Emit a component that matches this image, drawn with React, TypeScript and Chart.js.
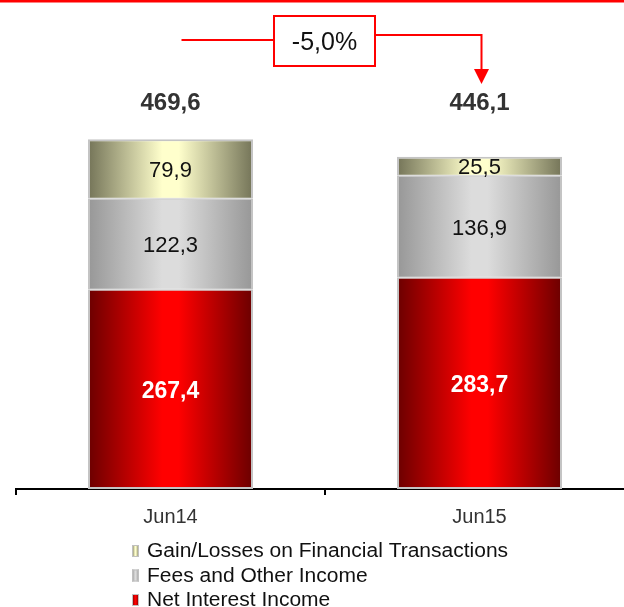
import { useEffect, useRef } from "react";
import { Chart, registerables } from "chart.js";
Chart.register(...registerables);

const categories = ["Jun14", "Jun15"];
const netInterestIncome = [267.4, 283.7];
const feesAndOtherIncome = [122.3, 136.9];
const gainLossesFinancial = [79.9, 25.5];
const totals = [469.6, 446.1];
const seriesLabels = [
  "Net Interest Income",
  "Fees and Other Income",
  "Gain/Losses on Financial Transactions",
];

const FONT = "'Liberation Sans', Arial, sans-serif";
const BAR_PCT = 0.534;
const CANVAS_W = 660;
const CANVAS_H = 607;

const redStops = ["#6b0000", "#ff0000", "#ff0000", "#6b0000"];
const greyStops = ["#979797", "#dcdcdc", "#dcdcdc", "#979797"];
const yellowStops = ["#747458", "#ffffcc", "#ffffcc", "#747458"];
const stopPos = [0, 0.45, 0.55, 1];

const fmt = (v: number) => v.toFixed(1).replace(".", ",");

const makeGrad = (stops: string[]) => (ctx: any) => {
  const chart = ctx.chart;
  const xs = chart.scales && chart.scales.x;
  if (!xs || !chart.chartArea || ctx.dataIndex === undefined) return stops[1];
  const cx = xs.getPixelForValue(ctx.dataIndex);
  const w = (xs.width / categories.length) * BAR_PCT;
  const g = chart.ctx.createLinearGradient(cx - w / 2, 0, cx + w / 2, 0);
  stops.forEach((c, i) => g.addColorStop(stopPos[i], c));
  return g;
};

const overlayPlugin = {
  id: "overlay",
  afterDatasetsDraw(chart: any) {
    const ctx = chart.ctx;
    ctx.save();
    // segment labels
    chart.data.datasets.forEach((ds: any, di: number) => {
      const meta = chart.getDatasetMeta(di);
      meta.data.forEach((el: any, i: number) => {
        const v = ds.data[i];
        const cy = (el.y + el.base) / 2;
        const isRed = di === 0;
        const size = isRed ? 23 : 22;
        ctx.font = `${isRed ? "bold " : ""}${size}px ${FONT}`;
        ctx.fillStyle = isRed ? "#ffffff" : "#111111";
        ctx.textAlign = "center";
        ctx.textBaseline = "alphabetic";
        ctx.fillText(fmt(v), el.x, cy + size * 0.358);
      });
    });
    // totals
    const ys = chart.scales.y;
    const maxTotal = Math.max(...totals);
    const topMeta = chart.getDatasetMeta(0);
    ctx.font = `bold 24px ${FONT}`;
    ctx.fillStyle = "#333333";
    ctx.textAlign = "center";
    totals.forEach((t, i) => {
      const x = topMeta.data[i].x;
      ctx.fillText(fmt(t), x, ys.getPixelForValue(maxTotal) - 29);
    });
    // annotation
    const x0 = topMeta.data[0].x;
    const x1 = topMeta.data[1].x;
    const mid = (x0 + x1) / 2;
    const bl = mid - 51;
    const br = mid + 50;
    const bt = 16;
    const bb = 66;
    ctx.strokeStyle = "#ff0000";
    ctx.lineWidth = 2;
    ctx.beginPath();
    ctx.moveTo(x0 + 11, 40);
    ctx.lineTo(bl, 40);
    ctx.stroke();
    ctx.strokeRect(bl, bt, br - bl, bb - bt);
    const ax = x1 + 2;
    ctx.beginPath();
    ctx.moveTo(br, 35);
    ctx.lineTo(ax, 35);
    ctx.lineTo(ax, 70);
    ctx.stroke();
    ctx.fillStyle = "#ff0000";
    ctx.beginPath();
    ctx.moveTo(ax - 7.5, 69);
    ctx.lineTo(ax + 7.5, 69);
    ctx.lineTo(ax, 84);
    ctx.closePath();
    ctx.fill();
    const pct = (totals[1] / totals[0] - 1) * 100;
    ctx.font = `25px ${FONT}`;
    ctx.fillStyle = "#111111";
    ctx.textAlign = "center";
    ctx.fillText(fmt(pct) + "%", (bl + br) / 2, 50);
    ctx.restore();
  },
  afterDraw(chart: any) {
    const ctx = chart.ctx;
    ctx.save();
    // top red line
    ctx.fillStyle = "#ff0000";
    ctx.fillRect(0, 0, chart.width, 2.5);
    // legend (reversed order)
    const order = [2, 1, 0];
    const stopsArr = [redStops, greyStops, yellowStops];
    ctx.textAlign = "left";
    ctx.textBaseline = "alphabetic";
    order.forEach((di, row) => {
      const base = 557 + row * 24.5;
      const mx = 132;
      const my = base - 12;
      const stops = stopsArr[di];
      const g = ctx.createLinearGradient(mx, 0, mx + 7, 0);
      stops.forEach((c: string, i: number) => g.addColorStop(stopPos[i], c));
      ctx.fillStyle = g;
      ctx.fillRect(mx, my, 7, 12);
      ctx.strokeStyle = "#c0c0c0";
      ctx.lineWidth = 1;
      ctx.strokeRect(mx + 0.5, my + 0.5, 6, 11);
      ctx.fillStyle = "#111111";
      ctx.save();
      ctx.translate(147, base);
      ctx.scale(1.05, 1);
      ctx.font = `20px ${FONT}`;
      ctx.fillText(chart.data.datasets[di].label, 0, 0);
      ctx.restore();
    });
    ctx.restore();
  },
};

export default function App() {
  const ref = useRef<HTMLCanvasElement>(null);
  useEffect(() => {
    if (!ref.current) return;
    const borderW = (ctx: any) => {
      const di = ctx.datasetIndex;
      return { left: 2, right: 2, top: di === 2 ? 2 : 1, bottom: di === 0 ? 2 : 1 };
    };
    const chart = new Chart(ref.current, {
      type: "bar",
      data: {
        labels: categories,
        datasets: [
          { label: seriesLabels[0], data: netInterestIncome, backgroundColor: makeGrad(redStops) },
          { label: seriesLabels[1], data: feesAndOtherIncome, backgroundColor: makeGrad(greyStops) },
          { label: seriesLabels[2], data: gainLossesFinancial, backgroundColor: makeGrad(yellowStops) },
        ].map((d) => ({
          ...d,
          borderColor: "#c4c4c4",
          borderWidth: borderW,
          borderSkipped: false,
          barPercentage: BAR_PCT,
          categoryPercentage: 1,
        })),
      },
      options: {
        responsive: false,
        animation: false,
        events: [],
        layout: { padding: { left: 16, right: CANVAS_W - 634, top: 42, bottom: 0 } },
        plugins: { legend: { display: false }, tooltip: { enabled: false } },
        scales: {
          x: {
            stacked: true,
            afterFit: (s: any) => {
              s.height = 118;
            },
            grid: {
              display: true,
              drawOnChartArea: false,
              drawTicks: true,
              tickLength: 6,
              color: "#000000",
              lineWidth: 2,
              offset: true,
            },
            border: { display: true, color: "#000000", width: 2 },
            ticks: {
              color: "#333333",
              font: { family: FONT, size: 20 },
              padding: 10,
            },
          },
          y: {
            stacked: true,
            display: false,
            min: 0,
            max: 600,
          },
        },
      },
      plugins: [overlayPlugin],
    });
    return () => chart.destroy();
  }, []);
  return (
    <div
      style={{
        position: "fixed",
        left: 0,
        top: 0,
        width: 624,
        height: 607,
        overflow: "hidden",
        background: "#ffffff",
      }}
    >
      <canvas ref={ref} width={CANVAS_W} height={CANVAS_H} style={{ width: CANVAS_W, height: CANVAS_H }} />
    </div>
  );
}
